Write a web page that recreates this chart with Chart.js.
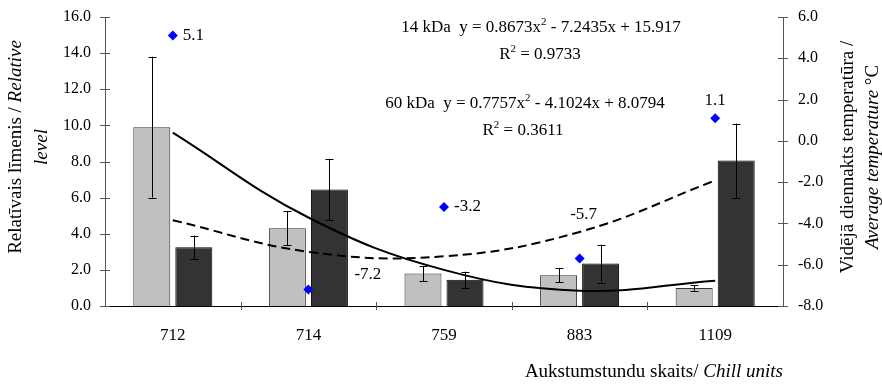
<!DOCTYPE html>
<html><head><meta charset="utf-8">
<script src="https://cdn.jsdelivr.net/npm/chart.js@4/dist/chart.umd.min.js"></script>
<style>html,body{margin:0;padding:0;background:#fff}#wrap{width:882px;height:385px;position:relative}</style>
</head><body><div id="wrap"><canvas id="c" width="882" height="385"></canvas></div>
<script>
// ---- data ----
const categories = ['712', '714', '759', '883', '1109'];
const level14 = [9.9, 4.3, 1.8, 1.7, 1.0];
const err14 = [3.9, 0.95, 0.42, 0.38, 0.16];
const level60 = [3.25, 6.45, 1.45, 2.35, 8.05];
const err60 = [0.65, 1.7, 0.45, 1.05, 2.05];
const trend14 = [9.6, 4.9, 2.0, 0.85, 1.4];
const trend60 = [4.75, 3.0, 2.75, 4.1, 6.95];
const temperature = [5.1, -7.2, -3.2, -5.7, 1.1];
const tempLabels = ['5.1', '-7.2', '-3.2', '-5.7', '1.1'];
const eq14 = ['14 kDa  y = 0.8673x', '2', ' - 7.2435x + 15.917'];
const r14 = ['R', '2', ' = 0.9733'];
const eq60 = ['60 kDa  y = 0.7757x', '2', ' - 4.1024x + 8.0794'];
const r60 = ['R', '2', ' = 0.3611'];

// ---- presentation ----
const SERIF = '"Liberation Serif", "Times New Roman", serif';
const labelOffsets = [[10, 0, 'left'], [46, -15, 'left'], [10, 0, 'left'], [4, -44, 'center'], [0, -18, 'center']];

function drawParts(ctx, parts, x, y, align) {
  // parts: [text, italic, size, dy]
  let total = 0;
  parts.forEach(p => { ctx.font = (p[1] ? 'italic ' : '') + p[2] + 'px ' + SERIF; total += ctx.measureText(p[0]).width; });
  let cx = align === 'center' ? x - total / 2 : (align === 'right' ? x - total : x);
  ctx.textAlign = 'left';
  ctx.textBaseline = 'middle';
  parts.forEach(p => {
    ctx.font = (p[1] ? 'italic ' : '') + p[2] + 'px ' + SERIF;
    ctx.fillText(p[0], cx, y + (p[3] || 0));
    cx += ctx.measureText(p[0]).width;
  });
}
function eqParts(e) { return [[e[0], false, 17], [e[1], false, 11, -6], [e[2], false, 17]]; }

const decor = {
  id: 'decor',
  afterDatasetsDraw(chart) {
    const ctx = chart.ctx;
    const y = chart.scales.y;
    // error bars
    [[0, err14, level14], [1, err60, level60]].forEach(([di, errs, vals]) => {
      const meta = chart.getDatasetMeta(di);
      meta.data.forEach((bar, i) => {
        const top = y.getPixelForValue(vals[i] + errs[i]);
        const bot = y.getPixelForValue(vals[i] - errs[i]);
        const bx = Math.round(bar.x) + 0.5;
        ctx.save();
        ctx.strokeStyle = '#000';
        ctx.lineWidth = 1;
        ctx.beginPath();
        ctx.moveTo(bx, top); ctx.lineTo(bx, bot);
        ctx.moveTo(bx - 4, Math.round(top) + 0.5); ctx.lineTo(bx + 4, Math.round(top) + 0.5);
        ctx.moveTo(bx - 4, Math.round(bot) + 0.5); ctx.lineTo(bx + 4, Math.round(bot) + 0.5);
        ctx.stroke();
        ctx.restore();
      });
    });
  },
  afterDraw(chart) {
    const ctx = chart.ctx;
    const a = chart.chartArea;
    ctx.save();
    ctx.fillStyle = '#000';
    // temperature labels
    const meta = chart.getDatasetMeta(4);
    meta.data.forEach((pt, i) => {
      const o = labelOffsets[i];
      drawParts(ctx, [[tempLabels[i], false, 17]], pt.x + o[0], pt.y + o[1], o[2]);
    });
    // equations
    drawParts(ctx, eqParts(eq14), a.left + 436, a.top + 11, 'center');
    drawParts(ctx, eqParts(r14), a.left + 435, a.top + 38, 'center');
    drawParts(ctx, eqParts(eq60), a.left + 420, a.top + 87, 'center');
    drawParts(ctx, eqParts(r60), a.left + 418, a.top + 114, 'center');
    // cross ticks
    ctx.strokeStyle = '#555';
    ctx.lineWidth = 1;
    ctx.beginPath();
    const y = chart.scales.y, y2 = chart.scales.y2;
    y.ticks.forEach(t => { const py = Math.round(y.getPixelForValue(t.value)) + 0.5; ctx.moveTo(a.left - 5, py); ctx.lineTo(a.left + 5, py); });
    y2.ticks.forEach(t => { const py = Math.round(y2.getPixelForValue(t.value)) + 0.5; ctx.moveTo(a.right - 5, py); ctx.lineTo(a.right + 5, py); });
    const n = categories.length;
    for (let i = 1; i < n; i++) {
      const px = Math.round(a.left + i * (a.right - a.left) / n) + 0.5;
      ctx.moveTo(px, a.bottom - 4); ctx.lineTo(px, a.bottom + 4);
    }
    ctx.stroke();
    // axis titles
    ctx.save();
    ctx.translate(16, 147); ctx.rotate(-Math.PI / 2);
    drawParts(ctx, [['Relatīvais līmenis / ', false, 19], ['Relative', true, 19]], 0, 0, 'center');
    ctx.restore();
    ctx.save();
    ctx.translate(42, 147); ctx.rotate(-Math.PI / 2);
    drawParts(ctx, [['level', true, 19]], 0, 0, 'center');
    ctx.restore();
    ctx.save();
    ctx.translate(848, 157); ctx.rotate(-Math.PI / 2);
    drawParts(ctx, [['Vidējā diennakts temperatūra /', false, 19]], 0, 0, 'center');
    ctx.restore();
    ctx.save();
    ctx.translate(873, 157); ctx.rotate(-Math.PI / 2);
    drawParts(ctx, [['Average temperature ', true, 19], ['°C', false, 19]], 0, 0, 'center');
    ctx.restore();
    drawParts(ctx, [['Aukstumstundu skaits/ ', false, 19], ['Chill units', true, 19]], a.right, 372, 'right');
    ctx.restore();
  }
};

new Chart(document.getElementById('c'), {
  type: 'bar',
  data: {
    labels: categories,
    datasets: [
      { label: '14 kDa', data: level14, backgroundColor: '#c0c0c0', borderColor: '#333', borderWidth: 1, order: 3, yAxisID: 'y',
        categoryPercentage: 0.62, barPercentage: 0.88 },
      { label: '60 kDa', data: level60, backgroundColor: '#333333', borderColor: '#000', borderWidth: 1, order: 3, yAxisID: 'y',
        categoryPercentage: 0.62, barPercentage: 0.88 },
      { type: 'line', label: 'trend 14', data: trend14, borderColor: '#000', borderWidth: 2, pointRadius: 0, tension: 0.4, fill: false, order: 2, yAxisID: 'y' },
      { type: 'line', label: 'trend 60', data: trend60, borderColor: '#000', borderWidth: 2, borderDash: [9, 5], pointRadius: 0, tension: 0.4, fill: false, order: 2, yAxisID: 'y' },
      { type: 'line', label: 'temperature', data: temperature, showLine: false, pointStyle: 'rectRot', pointRadius: 5, pointBackgroundColor: '#0000ff', pointBorderColor: '#0000ff', pointBorderWidth: 0, order: 1, yAxisID: 'y2' }
    ]
  },
  options: {
    responsive: false,
    animation: false,
    devicePixelRatio: 1,
    layout: { padding: { top: 17, left: 0, right: 0, bottom: 0 } },
    plugins: { legend: { display: false }, tooltip: { enabled: false }, title: { display: false } },
    scales: {
      x: {
        grid: { display: false, drawTicks: true, tickLength: 19 },
        border: { display: true, color: '#000', width: 1 },
        ticks: { color: '#000', font: { family: SERIF, size: 17 }, padding: 0 },
        afterFit(s) { s.height = 79; }
      },
      y: {
        position: 'left', min: 0, max: 16,
        grid: { display: false, drawTicks: true, tickLength: 14 },
        border: { display: true, color: '#555', width: 1 },
        ticks: { stepSize: 2, color: '#000', font: { family: SERIF, size: 16 }, padding: 0, callback: v => v.toFixed(1) },
        afterFit(s) { s.width = 105; }
      },
      y2: {
        position: 'right', min: -8, max: 6,
        grid: { display: false, drawTicks: true, tickLength: 15 },
        border: { display: true, color: '#555', width: 1 },
        ticks: { stepSize: 2, color: '#000', font: { family: SERIF, size: 16 }, padding: 0, callback: v => v.toFixed(1) },
        afterFit(s) { s.width = 99; }
      }
    }
  },
  plugins: [decor]
});
</script>
</body></html>
